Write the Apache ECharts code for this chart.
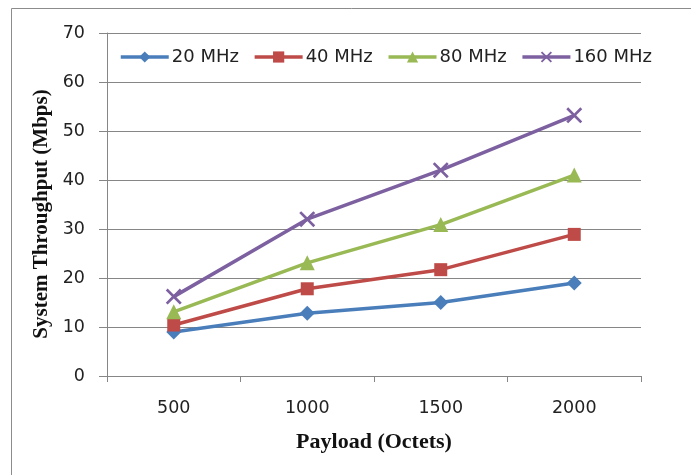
<!DOCTYPE html>
<html><head><meta charset="utf-8">
<script src="https://cdn.jsdelivr.net/npm/echarts@6/dist/echarts.min.js"></script>
<style>html,body{margin:0;padding:0;background:#fff}#c{width:691px;height:475px}</style>
</head><body><div id="c"></div>
<script>
const categories = ['500', '1000', '1500', '2000'];
const seriesNames = ['20 MHz', '40 MHz', '80 MHz', '160 MHz'];
const mhz20 = [9, 12.8, 15, 19];
const mhz40 = [10.4, 17.8, 21.7, 28.9];
const mhz80 = [13.1, 23.1, 30.9, 41];
const mhz160 = [16.2, 32, 42, 53.2];
const yTicks = [0, 70, 10];

const colors = ['#4A7EBB', '#BE4B48', '#98B954', '#7D60A0'];
const xPath = 'path://M0,1.2 L1.2,0 L5,3.8 L8.8,0 L10,1.2 L6.2,5 L10,8.8 L8.8,10 L5,6.2 L1.2,10 L0,8.8 L3.8,5 Z';
const symbols = ['diamond', 'rect', 'triangle', xPath];
const sizes = [15, 13, 15, 16];
const data = [mhz20, mhz40, mhz80, mhz160];

const chart = echarts.init(document.getElementById('c'));
chart.setOption({
  animation: false,
  color: colors,
  graphic: [{type: 'rect', shape: {x: 11.5, y: 8.5, width: 720, height: 520}, style: {fill: 'none', stroke: '#8c8c8c', lineWidth: 1}}],
  grid: {left: 107, right: 50, top: 33, bottom: 99},
  legend: {
    data: seriesNames, left: 114, top: 43, itemWidth: 48, itemHeight: 14, itemGap: 14,
    lineStyle: {width: 3.5},
    textStyle: {fontFamily: 'DejaVu Sans', fontSize: 18, color: '#222', padding: [0, 0, 0, -2]}
  },
  xAxis: {
    type: 'category', data: categories, boundaryGap: true,
    name: 'Payload (Octets)', nameLocation: 'middle', nameGap: 55,
    nameTextStyle: {fontFamily: 'Liberation Serif', fontWeight: 'bold', fontSize: 22, color: '#111'},
    axisLine: {lineStyle: {color: '#868686', width: 1}},
    axisTick: {show: true, alignWithLabel: false, length: 6, lineStyle: {color: '#868686'}},
    axisLabel: {fontFamily: 'DejaVu Sans', fontSize: 17.5, color: '#222', margin: 23}
  },
  yAxis: {
    type: 'value', min: yTicks[0], max: yTicks[1], interval: yTicks[2],
    name: 'System Throughput (Mbps)', nameLocation: 'middle', nameGap: 54,
    nameTextStyle: {fontFamily: 'Liberation Serif', fontWeight: 'bold', fontSize: 21, color: '#111', padding: [0, 19, 0, 0]},
    axisLine: {show: true, lineStyle: {color: '#868686', width: 1}},
    axisTick: {show: true, length: 8, lineStyle: {color: '#868686'}},
    axisLabel: {fontFamily: 'DejaVu Sans', fontSize: 17.5, color: '#222', margin: 22},
    splitLine: {lineStyle: {color: '#868686', width: 1}}
  },
  series: data.map((d, i) => ({
    name: seriesNames[i], type: 'line', data: d,
    symbol: symbols[i], symbolSize: sizes[i], showSymbol: true,
    lineStyle: {width: 3.5, color: colors[i]},
    itemStyle: {color: colors[i]}
  }))
});
</script></body></html>
